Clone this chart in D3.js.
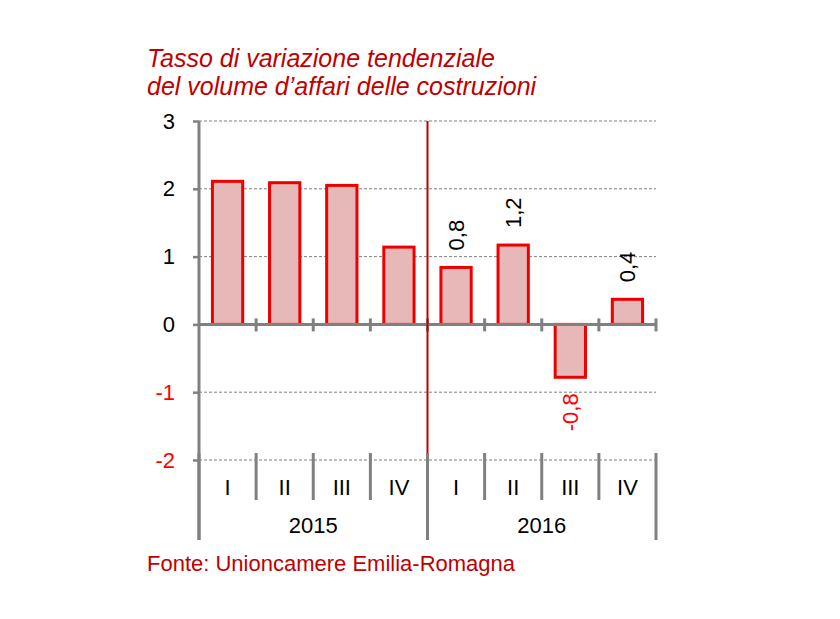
<!DOCTYPE html>
<html>
<head>
<meta charset="utf-8">
<script src="https://cdn.jsdelivr.net/npm/d3@7"></script>
<style>
  body { margin: 0; background: #fff; }
  text { font-family: "Liberation Sans", Arial, sans-serif; }
</style>
</head>
<body>
<div id="chart"></div>
<script>
var quarters = ["I", "II", "III", "IV"];
var years = ["2015", "2016"];
var values2015 = [2.11, 2.09, 2.05, 1.14];
var values2016 = [0.84, 1.17, -0.78, 0.37];
var labels2016 = ["0,8", "1,2", "-0,8", "0,4"];
var yTicks = [-2, -1, 0, 1, 2, 3];

var rows = [];
years.forEach(function (yr, j) {
    var vals = j == 0 ? values2015 : values2016;
    quarters.forEach(function (q, i) {
        rows.push({
            key: yr + "-" + q, year: yr, q: q, value: vals[i],
            label: j == 0 ? null : labels2016[i]
        });
    });
});

var svg = d3.select("#chart")
        .append("svg")
        .attr("width", 840)
        .attr("height", 619);

var x = d3.scaleBand()
        .domain(rows.map(function (d) { return d.key; }))
        .range([199, 656])
        .paddingInner(0.47)
        .paddingOuter(0.235);

var y = d3.scaleLinear()
        .domain([-2, 3])
        .range([460, 121]);

var grey = "#808080";
var darkRed = "#c00000";
var step = x.step();
var left = x.range()[0];

// title
var title = svg.append("text")
        .attr("x", 147)
        .attr("y", 67)
        .attr("fill", darkRed)
        .attr("font-size", "25px")
        .attr("font-style", "italic");
title.append("tspan").attr("x", 147).text("Tasso di variazione tendenziale");
title.append("tspan").attr("x", 147).attr("dy", 28).text("del volume d\u2019affari delle costruzioni");

// gridlines
svg.selectAll(".grid")
        .data(yTicks.filter(function (t) { return t != 0; }))
        .enter().append("line")
        .attr("x1", 199)
        .attr("x2", 656)
        .attr("y1", function (d) { return y(d); })
        .attr("y2", function (d) { return y(d); })
        .attr("stroke", grey)
        .attr("stroke-width", 1)
        .attr("stroke-dasharray", "3,2");

// y axis
var yAxis = svg.append("g")
        .attr("transform", "translate(199,0)")
        .call(d3.axisLeft(y).tickValues(yTicks).tickSize(6).tickPadding(18)
              .tickFormat(function (d) { return d; }));
yAxis.select(".domain").remove();
yAxis.selectAll(".tick line").attr("stroke", grey).attr("stroke-width", 2.5);
yAxis.selectAll(".tick text")
        .attr("font-size", "22px")
        .attr("font-family", "Liberation Sans, Arial, sans-serif")
        .attr("fill", function (d) { return d < 0 ? "#ff0000" : "#000"; });

svg.append("line")
        .attr("x1", 199).attr("x2", 199)
        .attr("y1", y(3)).attr("y2", 540)
        .attr("stroke", grey).attr("stroke-width", 3);

// bars
svg.selectAll(".bar")
        .data(rows)
        .enter().append("rect")
        .attr("x", function (d) { return x(d.key); })
        .attr("width", x.bandwidth())
        .attr("y", function (d) { return y(Math.max(0, d.value)); })
        .attr("height", function (d) { return Math.abs(y(d.value) - y(0)); })
        .attr("fill", "#e6b9b8")
        .attr("stroke", "#ee0000")
        .attr("stroke-width", 3);

// zero line with ticks
svg.append("line")
        .attr("x1", 199).attr("x2", 656)
        .attr("y1", y(0)).attr("y2", y(0))
        .attr("stroke", grey).attr("stroke-width", 3);

var bounds = d3.range(rows.length + 1).map(function (i) { return left + i * step; });
svg.selectAll(".ztick")
        .data(bounds.slice(1))
        .enter().append("line")
        .attr("x1", function (d) { return d; })
        .attr("x2", function (d) { return d; })
        .attr("y1", y(0) - 6)
        .attr("y2", y(0) + 7)
        .attr("stroke", grey).attr("stroke-width", 3);

// year divider
svg.append("line")
        .attr("x1", bounds[4]).attr("x2", bounds[4])
        .attr("y1", y(3)).attr("y2", y(-2))
        .attr("stroke", darkRed).attr("stroke-width", 2);

// value labels
svg.selectAll(".vlabel")
        .data(rows.filter(function (d) { return d.label; }))
        .enter().append("text")
        .attr("transform", function (d) {
            var cx = x(d.key) + x.bandwidth() / 2;
            var yy = d.value >= 0 ? y(d.value) - 17 : y(d.value) + 16;
            return "translate(" + cx + "," + yy + ") rotate(-90)";
        })
        .attr("dy", "0.36em")
        .attr("text-anchor", function (d) { return d.value >= 0 ? "start" : "end"; })
        .attr("font-size", "22px")
        .attr("fill", function (d) { return d.value < 0 ? "#ff0000" : "#000"; })
        .text(function (d) { return d.label; });

// category axis
svg.selectAll(".sep")
        .data(bounds)
        .enter().append("line")
        .attr("x1", function (d) { return d; })
        .attr("x2", function (d) { return d; })
        .attr("y1", 453)
        .attr("y2", function (d, i) { return i % 4 == 0 ? 540 : 500; })
        .attr("stroke", grey).attr("stroke-width", 3);

svg.selectAll(".qlabel")
        .data(rows)
        .enter().append("text")
        .attr("x", function (d) { return x(d.key) + x.bandwidth() / 2; })
        .attr("y", 495)
        .attr("text-anchor", "middle")
        .attr("font-size", "22px")
        .text(function (d) { return d.q; });

svg.selectAll(".ylabel")
        .data(years)
        .enter().append("text")
        .attr("x", function (d, i) { return left + step * (i * 4 + 2); })
        .attr("y", 533)
        .attr("text-anchor", "middle")
        .attr("font-size", "22px")
        .text(function (d) { return d; });

// source
svg.append("text")
        .attr("x", 147)
        .attr("y", 571)
        .attr("fill", darkRed)
        .attr("font-size", "22px")
        .text("Fonte: Unioncamere Emilia-Romagna");
</script>
</body>
</html>
